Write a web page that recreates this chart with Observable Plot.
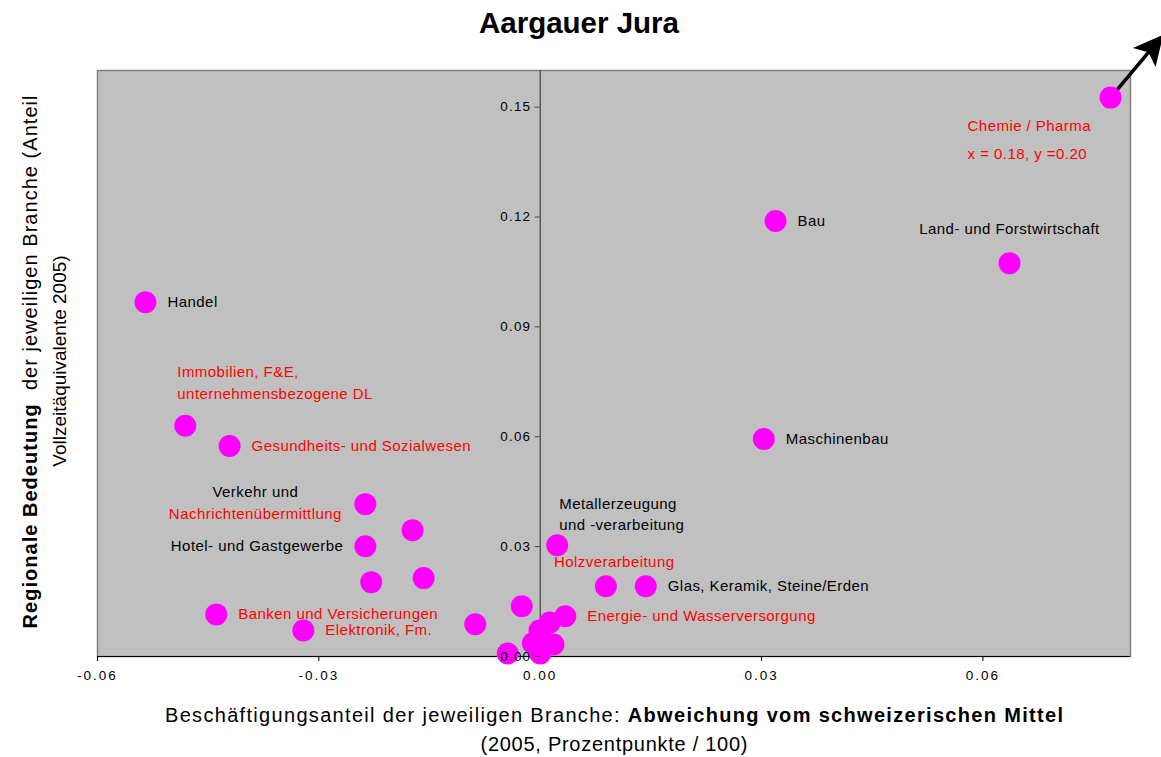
<!DOCTYPE html>
<html><head><meta charset="utf-8">
<script src="https://cdn.jsdelivr.net/npm/d3@7"></script>
<script src="https://cdn.jsdelivr.net/npm/@observablehq/plot@0.6"></script>
<style>body{margin:0;background:#fff;} svg{display:block;}</style>
</head><body><div id="chart"></div>
<script>
// ---- data ----
const sectors = [
  "Chemie / Pharma", "Bau", "Land- und Forstwirtschaft", "Maschinenbau", "Handel",
  "Immobilien, F&E, unternehmensbezogene DL", "Gesundheits- und Sozialwesen",
  "Verkehr und Nachrichtenübermittlung", "p9", "Hotel- und Gastgewerbe", "p11", "p12",
  "Banken und Versicherungen", "Elektronik, Fm.", "p15", "p16",
  "Metallerzeugung und -verarbeitung", "Holzverarbeitung", "Glas, Keramik, Steine/Erden",
  "Energie- und Wasserversorgung", "p21", "p22", "p23", "p24", "p25", "p26"
];
const xValues = [0.0773, 0.0319, 0.0636, 0.0303, -0.0535, -0.0481, -0.0421, -0.0237, -0.0173, -0.0237,
  -0.0229, -0.0158, -0.0439, -0.0321, -0.0088, -0.0025, 0.0023, 0.0089, 0.0143, 0.0034,
  0.0013, -0.0001, -0.0010, 0.0018, 0.0000, -0.0044];
const yValues = [0.1526, 0.1189, 0.1074, 0.0594, 0.0967, 0.0630, 0.0575, 0.0416, 0.0345, 0.0301,
  0.0203, 0.0214, 0.0115, 0.0071, 0.0088, 0.0137, 0.0304, 0.0192, 0.0192, 0.0110,
  0.0093, 0.0071, 0.0036, 0.0033, 0.0008, 0.0008];
const xTicks = [-0.06, -0.03, 0, 0.03, 0.06];
const yTicks = [0, 0.03, 0.06, 0.09, 0.12, 0.15];
const chemieActual = "x = 0.18, y =0.20";

const data = sectors.map((s, i) => ({sector: s, x: xValues[i], y: yValues[i]}));
const pt = name => data.filter(d => d.sector === name);
const RED = "#FF0000", BLACK = "#000000";
const LABEL_FS = 15, YTICK_FS = 13.4;
function label(name, text, color, opts = {}) {
  return Plot.text(pt(name), {x: "x", y: "y", text: () => text, fill: color, fontSize: LABEL_FS,
    textAnchor: "start", dx: 22, ...opts});
}
const arrowShape = {
  draw(context, l) {
    const h = 22, w = 11;
    context.moveTo(0, 0);
    context.lineTo(0, -l + h - 2);
    context.moveTo(-w, -l + h);
    context.lineTo(0, -l);
    context.lineTo(w, -l + h);
    context.lineTo(0, -l + h - 5);
    context.closePath();
  }
};

const chart = Plot.plot({
  width: 1161, height: 757,
  marginLeft: 97, marginRight: 31, marginTop: 70, marginBottom: 101,
  style: {fontFamily: "'Liberation Sans', Arial, sans-serif", background: "#fff", color: "#000"},
  x: {domain: [-0.06, 0.08], axis: null},
  y: {domain: [0, 0.16], axis: null},
  marks: [
    Plot.frame({fill: "#C0C0C0", stroke: "#808080", strokeWidth: 1.5}),
    Plot.ruleX([0], {stroke: "#404040", strokeWidth: 1.2}),
    Plot.ruleY([0], {stroke: "#000", strokeWidth: 1.2}),
    Plot.axisX({ticks: xTicks, anchor: "bottom", tickSize: 5, tickPadding: 9, fontSize: 13.5,
      tickFormat: d => d.toFixed(2), label: null}),
    Plot.vector(pt("Chemie / Pharma"), {x: "x", y: "y", length: 78, rotate: 40, anchor: "start",
      stroke: "#000", fill: "#000", strokeWidth: 3.5, strokeLinejoin: "miter", shape: arrowShape}),
    Plot.dot(data, {x: "x", y: "y", r: 11, fill: "#FF00FF"}),
    label("Handel", "Handel", BLACK),
    label("Bau", "Bau", BLACK),
    label("Maschinenbau", "Maschinenbau", BLACK),
    label("Land- und Forstwirtschaft", "Land- und Forstwirtschaft", BLACK, {dx: 0, dy: -34, textAnchor: "middle"}),
    label("Chemie / Pharma", "Chemie / Pharma", RED, {dx: -143, dy: 29}),
    label("Chemie / Pharma", chemieActual, RED, {dx: -143, dy: 57}),
    label("Immobilien, F&E, unternehmensbezogene DL", "Immobilien, F&E,", RED, {dx: -8, dy: -54}),
    label("Immobilien, F&E, unternehmensbezogene DL", "unternehmensbezogene DL", RED, {dx: -8, dy: -32}),
    label("Gesundheits- und Sozialwesen", "Gesundheits- und Sozialwesen", RED),
    label("Verkehr und Nachrichtenübermittlung", "Verkehr und", BLACK, {dx: -110, dy: -12, textAnchor: "middle"}),
    label("Verkehr und Nachrichtenübermittlung", "Nachrichtenübermittlung", RED, {dx: -110, dy: 10, textAnchor: "middle"}),
    label("Hotel- und Gastgewerbe", "Hotel- und Gastgewerbe", BLACK, {dx: -22, textAnchor: "end"}),
    label("Banken und Versicherungen", "Banken und Versicherungen", RED),
    label("Elektronik, Fm.", "Elektronik, Fm.", RED),
    label("Metallerzeugung und -verarbeitung", "Metallerzeugung", BLACK, {dx: 2, dy: -41}),
    label("Metallerzeugung und -verarbeitung", "und -verarbeitung", BLACK, {dx: 2, dy: -20}),
    label("Holzverarbeitung", "Holzverarbeitung", RED, {dx: -52, dy: -24}),
    label("Glas, Keramik, Steine/Erden", "Glas, Keramik, Steine/Erden", BLACK),
    label("Energie- und Wasserversorgung", "Energie- und Wasserversorgung", RED),
    Plot.ruleY(yTicks, {x1: 0, x2: 0, insetLeft: -5, stroke: "#404040"}),
    Plot.text(yTicks, {x: 0, y: d => d, text: d => d.toFixed(2), dx: -9, textAnchor: "end",
      fontSize: YTICK_FS, fill: "#000"})
  ]
});
document.getElementById("chart").append(chart);

const svg = d3.select(chart);
svg.selectAll("text").each(function() {
  const fs = this.getAttribute("font-size") || (this.parentNode && this.parentNode.getAttribute("font-size"));
  if (fs == String(LABEL_FS)) this.setAttribute("letter-spacing", "0.45px");
  else if (fs == String(YTICK_FS)) this.setAttribute("letter-spacing", "1.2px");
});
svg.selectAll('g[aria-label="x-axis tick label"] text').attr("letter-spacing", "2px");

const ff = "'Liberation Sans', Arial, sans-serif";
svg.append("text").attr("x", 579).attr("y", 33).attr("text-anchor", "middle")
  .attr("font-family", ff).attr("font-size", 29.5).attr("font-weight", "bold").attr("fill", "#000")
  .text("Aargauer Jura");
const xt = svg.append("text").attr("x", 614).attr("y", 722).attr("text-anchor", "middle")
  .attr("font-family", ff).attr("font-size", 20).attr("fill", "#000")
  .attr("textLength", 898).attr("lengthAdjust", "spacing");
xt.append("tspan").text("Beschäftigungsanteil der jeweiligen Branche: ");
xt.append("tspan").attr("font-weight", "bold").text("Abweichung vom schweizerischen Mittel");
svg.append("text").attr("x", 614).attr("y", 751).attr("text-anchor", "middle")
  .attr("font-family", ff).attr("font-size", 20).attr("fill", "#000")
  .attr("textLength", 267).attr("lengthAdjust", "spacing")
  .text("(2005, Prozentpunkte / 100)");
const yt = svg.append("text").attr("transform", "translate(37,362) rotate(-90)").attr("text-anchor", "middle")
  .attr("font-family", ff).attr("font-size", 20).attr("fill", "#000")
  .attr("textLength", 533).attr("lengthAdjust", "spacing");
yt.append("tspan").attr("font-weight", "bold").text("Regionale Bedeutung");
yt.append("tspan").text("  der jeweiligen Branche (Anteil");
svg.append("text").attr("transform", "translate(66,361) rotate(-90)").attr("text-anchor", "middle")
  .attr("font-family", ff).attr("font-size", 19).attr("fill", "#000")
  .text("Vollzeitäquivalente 2005)");
</script></body></html>
